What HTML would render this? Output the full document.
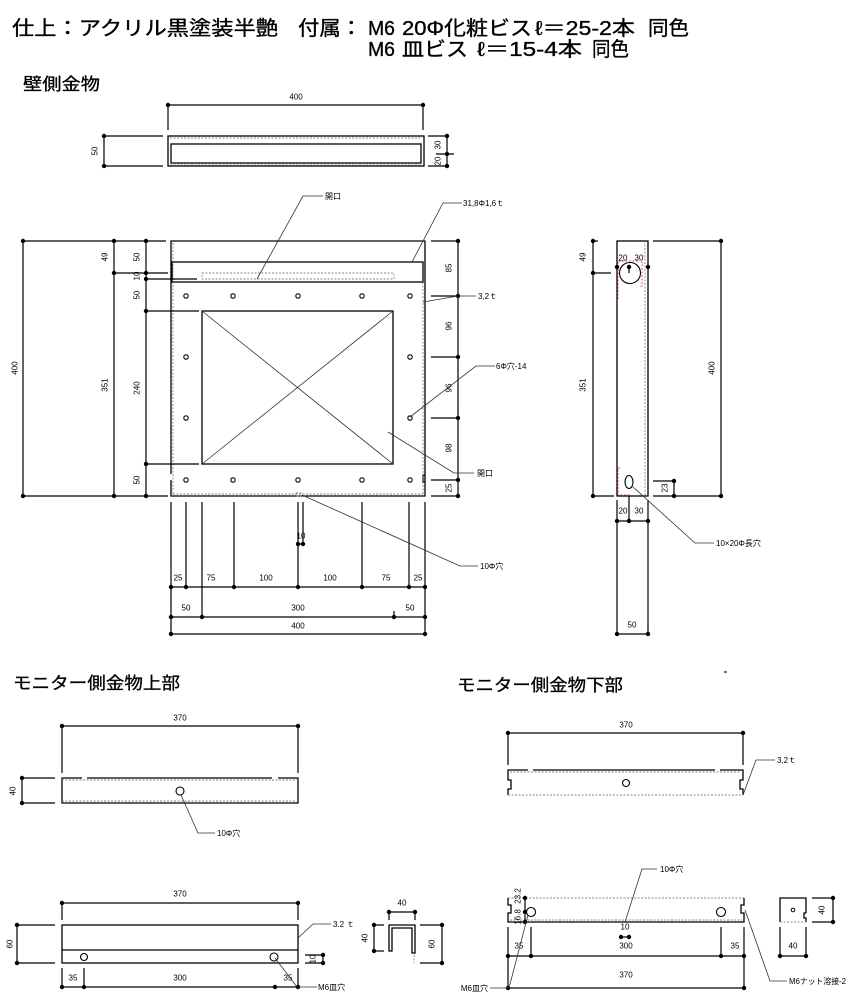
<!DOCTYPE html>
<html><head><meta charset="utf-8"><style>
html,body{margin:0;padding:0;background:#fff}
svg{display:block}
.l{stroke:#000;stroke-width:1.3;fill:none}
.m{stroke:#000;stroke-width:1.1;fill:none}
.r{stroke:#333;stroke-width:0.8;fill:none}
.d{stroke:#888;stroke-width:0.9;stroke-dasharray:2 1.5;fill:none}
.rd{stroke:#e05050;stroke-width:1;stroke-dasharray:2 1.5;fill:none}
.h{stroke:#000;stroke-width:1.2;fill:none}
text{font-family:"Liberation Sans","Noto Sans CJK JP",sans-serif;fill:#000}
.t{font-size:8px}
.tc{font-size:8px;text-anchor:middle;dominant-baseline:central}
.big{font-size:20px;stroke:#000;stroke-width:0.35}
.sub{font-size:17px;stroke:#000;stroke-width:0.3}
</style></head><body>
<svg width="855" height="1000" viewBox="0 0 855 1000" xmlns="http://www.w3.org/2000/svg">
<!-- header -->
<text class="big" x="12" y="35" textLength="266" lengthAdjust="spacingAndGlyphs">仕上：アクリル黒塗装半艶</text>
<text class="big" x="298" y="35" textLength="64" lengthAdjust="spacingAndGlyphs">付属：</text>
<text class="big" x="368" y="35" textLength="27" lengthAdjust="spacingAndGlyphs">M6</text>
<text class="big" x="402" y="35" textLength="130" lengthAdjust="spacingAndGlyphs">20Φ化粧ビス</text>
<text class="big" x="535" y="35" textLength="100" lengthAdjust="spacingAndGlyphs">ℓ＝25-2本</text>
<text class="big" x="648" y="35" textLength="41" lengthAdjust="spacingAndGlyphs">同色</text>
<text class="big" x="368" y="56" textLength="27" lengthAdjust="spacingAndGlyphs">M6</text>
<text class="big" x="402" y="56" textLength="66" lengthAdjust="spacingAndGlyphs">皿ビス</text>
<text class="big" x="477" y="56" textLength="105" lengthAdjust="spacingAndGlyphs">ℓ＝15-4本</text>
<text class="big" x="592" y="56" textLength="37" lengthAdjust="spacingAndGlyphs">同色</text>

<text class="sub" x="23" y="90" textLength="77" lengthAdjust="spacingAndGlyphs">壁側金物</text>
<text class="sub" x="13" y="689" textLength="167" lengthAdjust="spacingAndGlyphs">モニター側金物上部</text>
<text class="sub" x="457" y="691" textLength="166" lengthAdjust="spacingAndGlyphs">モニター側金物下部</text>
<line class="m" x1="724" y1="672" x2="727" y2="672"/>

<!-- TOP VIEW -->
<g>
<line class="h" x1="168" y1="105" x2="423" y2="105"/>
<line class="h" x1="168" y1="105" x2="168" y2="130"/>
<line class="h" x1="423" y1="105" x2="423" y2="130"/>
<text class="tc" x="296" y="97">400</text>
<rect class="l" x="168" y="136" width="256" height="30"/>
<line class="d" x1="170" y1="138" x2="422" y2="138"/>
<line class="d" x1="170" y1="165" x2="422" y2="165"/>
<rect class="l" x="171" y="144" width="250" height="19"/>
<line class="h" x1="104" y1="136" x2="104" y2="166"/>
<line class="h" x1="104" y1="136" x2="163" y2="136"/>
<line class="h" x1="104" y1="166" x2="163" y2="166"/>
<text class="tc" transform="rotate(-90 95 151)" x="95" y="151">50</text>
<line class="h" x1="447" y1="136" x2="447" y2="166"/>
<line class="h" x1="428" y1="136" x2="447" y2="136"/>
<line class="h" x1="428" y1="166" x2="447" y2="166"/>
<line class="h" x1="436" y1="154" x2="454" y2="154"/>
<text class="tc" transform="rotate(-90 438 145)" x="438" y="145">30</text>
<text class="tc" transform="rotate(-90 438 161)" x="438" y="161">20</text>
<g fill="#000"><circle cx="168" cy="105" r="2.2"/><circle cx="423" cy="105" r="2.2"/><circle cx="104" cy="136" r="2.2"/><circle cx="104" cy="166" r="2.2"/><circle cx="447" cy="136" r="2.2"/><circle cx="447" cy="154" r="2.2"/><circle cx="447" cy="166" r="2.2"/></g>
</g>

<!-- MAIN FRONT VIEW -->
<g>
<path class="l" d="M171,474 V241 H425 V496 H171 V480"/>
<line class="d" x1="173" y1="243" x2="173" y2="494"/>
<line class="d" x1="173" y1="494" x2="423" y2="494"/>
<line class="d" x1="423" y1="282" x2="423" y2="494"/>
<rect class="l" x="172" y="262" width="251" height="20"/>
<rect class="d" x="202" y="273" width="192" height="6"/>
<rect class="l" x="202" y="311" width="191" height="153"/>
<line class="r" x1="202" y1="311" x2="393" y2="464"/>
<line class="r" x1="202" y1="464" x2="393" y2="311"/>
<rect class="m" x="423" y="475" width="2" height="7"/>
<g class="m" stroke-width="1.1">
<circle cx="186" cy="296" r="2.2"/><circle cx="233" cy="296" r="2.2"/><circle cx="298" cy="296" r="2.2"/><circle cx="362" cy="296" r="2.2"/><circle cx="410" cy="296" r="2.2"/>
<circle cx="186" cy="480" r="2.2"/><circle cx="233" cy="480" r="2.2"/><circle cx="298" cy="480" r="2.2"/><circle cx="362" cy="480" r="2.2"/><circle cx="410" cy="480" r="2.2"/>
<circle cx="186" cy="357" r="2.2"/><circle cx="186" cy="418" r="2.2"/><circle cx="410" cy="357" r="2.2"/><circle cx="410" cy="418" r="2.2"/>
</g>
<!-- left dims -->
<line class="h" x1="23" y1="241" x2="23" y2="496"/>
<line class="h" x1="114" y1="241" x2="114" y2="496"/>
<line class="h" x1="146" y1="241" x2="146" y2="496"/>
<line class="h" x1="23" y1="241" x2="166" y2="241"/>
<line class="h" x1="23" y1="496" x2="168" y2="496"/>
<line class="h" x1="114" y1="273" x2="168" y2="273"/>
<line class="h" x1="146" y1="279" x2="197" y2="279"/>
<line class="h" x1="146" y1="311" x2="199" y2="311"/>
<line class="h" x1="146" y1="464" x2="199" y2="464"/>
<text class="tc" transform="rotate(-90 15 368)" x="15" y="368">400</text>
<text class="tc" transform="rotate(-90 105 257)" x="105" y="257">49</text>
<text class="tc" transform="rotate(-90 105 385)" x="105" y="385">351</text>
<text class="tc" transform="rotate(-90 137 257)" x="137" y="257">50</text>
<text class="tc" transform="rotate(-90 137 276)" x="137" y="276">10</text>
<text class="tc" transform="rotate(-90 137 295)" x="137" y="295">50</text>
<text class="tc" transform="rotate(-90 137 388)" x="137" y="388">240</text>
<text class="tc" transform="rotate(-90 137 480)" x="137" y="480">50</text>
<g fill="#000">
<circle cx="23" cy="241" r="2.2"/><circle cx="23" cy="496" r="2.2"/>
<circle cx="114" cy="241" r="2.2"/><circle cx="114" cy="273" r="2.2"/><circle cx="114" cy="496" r="2.2"/>
<circle cx="146" cy="241" r="2.2"/><circle cx="146" cy="273" r="2.2"/><circle cx="146" cy="279" r="2.2"/><circle cx="146" cy="311" r="2.2"/><circle cx="146" cy="464" r="2.2"/><circle cx="146" cy="496" r="2.2"/>
</g>
<!-- right dims -->
<line class="h" x1="458" y1="241" x2="458" y2="496"/>
<line class="h" x1="431" y1="241" x2="458" y2="241"/>
<line class="h" x1="431" y1="296" x2="458" y2="296"/>
<line class="h" x1="431" y1="357" x2="458" y2="357"/>
<line class="h" x1="431" y1="418" x2="458" y2="418"/>
<line class="h" x1="431" y1="480" x2="458" y2="480"/>
<line class="h" x1="431" y1="496" x2="458" y2="496"/>
<text class="tc" transform="rotate(-90 449 268)" x="449" y="268">85</text>
<text class="tc" transform="rotate(-90 449 326)" x="449" y="326">96</text>
<text class="tc" transform="rotate(-90 449 388)" x="449" y="388">96</text>
<text class="tc" transform="rotate(-90 449 448)" x="449" y="448">98</text>
<text class="tc" transform="rotate(-90 449 488)" x="449" y="488">25</text>
<g fill="#000"><circle cx="458" cy="241" r="2.2"/><circle cx="458" cy="296" r="2.2"/><circle cx="458" cy="357" r="2.2"/><circle cx="458" cy="418" r="2.2"/><circle cx="458" cy="480" r="2.2"/><circle cx="458" cy="496" r="2.2"/></g>
<!-- leaders -->
<polyline class="r" points="257,279 303,196 323,196"/>
<text class="t" x="325" y="199">開口</text>
<polyline class="r" points="412,262 443,203 462,203"/>
<text class="t" x="463" y="206">31,8Φ1,6ｔ</text>
<polyline class="r" points="423,302 458,296 476,296"/>
<text class="t" x="478" y="299">3,2ｔ</text>
<polyline class="r" points="410,417 476,366 495,366"/>
<text class="t" x="496" y="369">6Φ穴-14</text>
<polyline class="r" points="388,432 454,473 474,473"/>
<text class="t" x="477" y="476">開口</text>
<!-- bottom dims -->
<line class="h" x1="171" y1="502" x2="171" y2="634"/>
<line class="h" x1="186" y1="502" x2="186" y2="587"/>
<line class="h" x1="202" y1="502" x2="202" y2="617"/>
<line class="h" x1="234" y1="502" x2="234" y2="587"/>
<line class="h" x1="298" y1="502" x2="298" y2="587" stroke-width="1.6"/>
<line class="h" x1="303" y1="502" x2="303" y2="544"/>
<line class="h" x1="362" y1="502" x2="362" y2="587"/>
<line class="h" x1="409" y1="502" x2="409" y2="587"/>
<line class="h" x1="425" y1="502" x2="425" y2="634"/>
<line class="h" x1="298" y1="544" x2="303" y2="544"/>
<text class="tc" x="301" y="536">10</text>
<line class="h" x1="171" y1="587" x2="425" y2="587"/>
<line class="h" x1="171" y1="617" x2="425" y2="617"/>
<line class="h" x1="394" y1="611" x2="394" y2="617"/>
<line class="h" x1="171" y1="634" x2="425" y2="634"/>
<text class="tc" x="178" y="578">25</text>
<text class="tc" x="211" y="578">75</text>
<text class="tc" x="266" y="578">100</text>
<text class="tc" x="330" y="578">100</text>
<text class="tc" x="386" y="578">75</text>
<text class="tc" x="418" y="578">25</text>
<text class="tc" x="186" y="608">50</text>
<text class="tc" x="298" y="608">300</text>
<text class="tc" x="410" y="608">50</text>
<text class="tc" x="298" y="626">400</text>
<g fill="#000">
<circle cx="298" cy="544" r="2.2"/><circle cx="303" cy="544" r="2.2"/>
<circle cx="171" cy="587" r="2.2"/><circle cx="186" cy="587" r="2.2"/><circle cx="234" cy="587" r="2.2"/><circle cx="298" cy="587" r="2.2"/><circle cx="362" cy="587" r="2.2"/><circle cx="409" cy="587" r="2.2"/><circle cx="425" cy="587" r="2.2"/>
<circle cx="171" cy="617" r="2.2"/><circle cx="202" cy="617" r="2.2"/><circle cx="394" cy="617" r="2.2"/><circle cx="425" cy="617" r="2.2"/>
<circle cx="171" cy="634" r="2.2"/><circle cx="425" cy="634" r="2.2"/>
</g>
<rect class="d" x="296" y="493" width="5" height="3"/>
<polyline class="r" points="302,495 460,566 478,566"/>
<text class="t" x="480" y="569">10Φ穴</text>
</g>

<!-- RIGHT SIDE VIEW -->
<g>
<rect class="l" x="617" y="241" width="31" height="255"/>
<line class="d" x1="645" y1="241" x2="645" y2="496"/>
<circle class="m" cx="630" cy="273" r="10.5"/>
<polyline class="rd" points="618,299 618,261 640,261"/>
<polyline class="rd" points="641,262 642,262 642,286 639,286"/>
<polyline class="rd" points="620,468 618,468 618,495 630,495"/>
<ellipse class="m" cx="629" cy="482" rx="4" ry="6.5"/>
<line class="h" x1="593" y1="241" x2="593" y2="496"/>
<line class="h" x1="593" y1="241" x2="598" y2="241"/>
<line class="h" x1="593" y1="273" x2="611" y2="273"/>
<line class="h" x1="593" y1="496" x2="614" y2="496"/>
<text class="tc" transform="rotate(-90 583 257)" x="583" y="257">49</text>
<text class="tc" transform="rotate(-90 583 385)" x="583" y="385">351</text>
<line class="h" x1="629" y1="267" x2="629" y2="273"/>
<text class="tc" x="623" y="258">20</text>
<text class="tc" x="639" y="258">30</text>
<line class="h" x1="721" y1="241" x2="721" y2="496"/>
<line class="h" x1="653" y1="241" x2="721" y2="241"/>
<line class="h" x1="653" y1="496" x2="721" y2="496"/>
<text class="tc" transform="rotate(-90 712 368)" x="712" y="368">400</text>
<line class="h" x1="674" y1="481" x2="674" y2="496"/>
<line class="h" x1="653" y1="481" x2="674" y2="481"/>
<text class="tc" transform="rotate(-90 665 488)" x="665" y="488">23</text>
<line class="h" x1="617" y1="500" x2="617" y2="634"/>
<line class="h" x1="648" y1="500" x2="648" y2="634"/>
<line class="h" x1="629" y1="496" x2="629" y2="521"/>
<line class="h" x1="617" y1="521" x2="648" y2="521"/>
<line class="h" x1="617" y1="634" x2="648" y2="634"/>
<text class="tc" x="623" y="511">20</text>
<text class="tc" x="639" y="511">30</text>
<text class="tc" x="632" y="625">50</text>
<g fill="#000">
<circle cx="593" cy="241" r="2.2"/><circle cx="593" cy="273" r="2.2"/><circle cx="593" cy="496" r="2.2"/>
<circle cx="617" cy="267" r="2.2"/><circle cx="629" cy="267" r="2.2"/><circle cx="648" cy="267" r="2.2"/>
<circle cx="721" cy="241" r="2.2"/><circle cx="721" cy="496" r="2.2"/>
<circle cx="674" cy="481" r="2.2"/><circle cx="674" cy="496" r="2.2"/>
<circle cx="617" cy="521" r="2.2"/><circle cx="629" cy="521" r="2.2"/><circle cx="648" cy="521" r="2.2"/>
<circle cx="617" cy="634" r="2.2"/><circle cx="648" cy="634" r="2.2"/>
</g>
<polyline class="r" points="632,486 695,543 714,543"/>
<text class="t" x="716" y="546">10×20Φ長穴</text>
</g>

<!-- MONITOR UPPER -->
<g>
<line class="h" x1="62" y1="726" x2="298" y2="726"/>
<line class="h" x1="62" y1="726" x2="62" y2="773"/>
<line class="h" x1="298" y1="726" x2="298" y2="773"/>
<text class="tc" x="180" y="718">370</text>
<path class="l" d="M82,778 H62 V803 H298 V778 H278 M272,778 H87"/>
<line class="d" x1="62" y1="780" x2="298" y2="780"/>
<line class="d" x1="62" y1="801" x2="298" y2="801"/>
<circle class="m" cx="180" cy="791" r="4"/>
<line class="h" x1="22" y1="778" x2="22" y2="803"/>
<line class="h" x1="22" y1="778" x2="55" y2="778"/>
<line class="h" x1="22" y1="803" x2="55" y2="803"/>
<text class="tc" transform="rotate(-90 13 791)" x="13" y="791">40</text>
<g fill="#000"><circle cx="62" cy="726" r="2.2"/><circle cx="298" cy="726" r="2.2"/><circle cx="22" cy="778" r="2.2"/><circle cx="22" cy="803" r="2.2"/></g>
<polyline class="r" points="181,795 198,833 215,833"/>
<text class="t" x="217" y="836">10Φ穴</text>
</g>

<!-- MONITOR LOWER -->
<g>
<line class="h" x1="508" y1="733" x2="743" y2="733"/>
<line class="h" x1="508" y1="733" x2="508" y2="765"/>
<line class="h" x1="743" y1="733" x2="743" y2="765"/>
<text class="tc" x="626" y="725">370</text>
<path class="l" d="M508,795 V789 H511 V780 H508 V770 H528 M533,770 H715 M720,770 H743 V780 H740 V789 H743 V795"/>
<line class="d" x1="510" y1="772" x2="741" y2="772"/>
<line class="d" x1="508" y1="795" x2="743" y2="795"/>
<circle class="m" cx="626" cy="783" r="3.5"/>
<g fill="#000"><circle cx="508" cy="733" r="2.2"/><circle cx="743" cy="733" r="2.2"/></g>
<polyline class="r" points="743,795 756,760 775,760"/>
<text class="t" x="777" y="763">3,2ｔ</text>
</g>

<!-- BOTTOM LEFT -->
<g>
<line class="h" x1="62" y1="903" x2="298" y2="903"/>
<line class="h" x1="62" y1="903" x2="62" y2="920"/>
<line class="h" x1="298" y1="903" x2="298" y2="920"/>
<text class="tc" x="180" y="894">370</text>
<rect class="l" x="62" y="925" width="236" height="38"/>
<line class="l" x1="62" y1="950" x2="298" y2="950"/>
<circle class="m" cx="84" cy="957" r="3.5"/>
<circle class="m" cx="274" cy="957" r="4"/>
<line class="h" x1="17" y1="925" x2="17" y2="963"/>
<line class="h" x1="17" y1="925" x2="55" y2="925"/>
<line class="h" x1="17" y1="963" x2="55" y2="963"/>
<text class="tc" transform="rotate(-90 10 944)" x="10" y="944">60</text>
<line class="h" x1="62" y1="968" x2="62" y2="987"/>
<line class="h" x1="84" y1="968" x2="84" y2="987"/>
<line class="h" x1="298" y1="968" x2="298" y2="987"/>
<line class="h" x1="62" y1="987" x2="298" y2="987"/>
<text class="tc" x="73" y="978">35</text>
<text class="tc" x="180" y="978">300</text>
<text class="tc" x="288" y="978">35</text>
<line class="h" x1="305" y1="955" x2="323" y2="955"/>
<line class="h" x1="305" y1="963" x2="323" y2="963"/>
<line class="h" x1="323" y1="955" x2="323" y2="963"/>
<text class="tc" transform="rotate(-90 313 959)" x="313" y="959">10</text>
<g fill="#000"><circle cx="62" cy="903" r="2.2"/><circle cx="298" cy="903" r="2.2"/><circle cx="17" cy="925" r="2.2"/><circle cx="17" cy="963" r="2.2"/><circle cx="62" cy="987" r="2.2"/><circle cx="84" cy="987" r="2.2"/><circle cx="275" cy="987" r="2.2"/><circle cx="298" cy="987" r="2.2"/><circle cx="323" cy="955" r="2.2"/><circle cx="323" cy="963" r="2.2"/></g>
<polyline class="r" points="298,938 313,924 331,924"/>
<text class="t" x="333" y="927">3.2 ｔ</text>
<polyline class="r" points="275,958 297,987 317,987"/>
<text class="t" x="318" y="990">M6皿穴</text>
<!-- U section -->
<path class="l" d="M392,951 H389 V925 H415 V953 H412 V928 H392 Z"/>
<line class="d" x1="414" y1="955" x2="414" y2="963"/>
<line class="h" x1="389" y1="912" x2="415" y2="912"/>
<line class="h" x1="389" y1="912" x2="389" y2="920"/>
<line class="h" x1="415" y1="912" x2="415" y2="920"/>
<text class="tc" x="402" y="903">40</text>
<line class="h" x1="374" y1="925" x2="374" y2="951"/>
<line class="h" x1="374" y1="925" x2="384" y2="925"/>
<line class="h" x1="374" y1="951" x2="384" y2="951"/>
<text class="tc" transform="rotate(-90 365 938)" x="365" y="938">40</text>
<line class="h" x1="442" y1="925" x2="442" y2="963"/>
<line class="h" x1="420" y1="925" x2="442" y2="925"/>
<line class="h" x1="420" y1="963" x2="442" y2="963"/>
<text class="tc" transform="rotate(-90 432 944)" x="432" y="944">60</text>
<g fill="#000"><circle cx="389" cy="912" r="2.2"/><circle cx="415" cy="912" r="2.2"/><circle cx="374" cy="925" r="2.2"/><circle cx="374" cy="951" r="2.2"/><circle cx="442" cy="925" r="2.2"/><circle cx="442" cy="963" r="2.2"/></g>
</g>

<!-- BOTTOM RIGHT -->
<g>
<polyline class="r" points="625,922 642,869 657,869"/>
<text class="t" x="660" y="872">10Φ穴</text>
<line class="d" x1="508" y1="898" x2="744" y2="898"/>
<line class="d" x1="510" y1="920" x2="742" y2="920"/>
<path class="l" d="M508,898 V905 H511 V913 H508 V922 H744 V913 H741 V905 H744 V898"/>
<circle class="m" cx="531" cy="912" r="4.5"/>
<circle class="m" cx="721" cy="912" r="4.5"/>
<line class="h" x1="525" y1="898" x2="525" y2="922"/>
<text class="tc" transform="rotate(-90 518 896)" x="518" y="896">23.2</text>
<text class="tc" transform="rotate(-90 518 917)" x="518" y="917">16.8</text>
<line class="h" x1="508" y1="927" x2="508" y2="988"/>
<line class="h" x1="531" y1="927" x2="531" y2="956"/>
<line class="h" x1="721" y1="927" x2="721" y2="956"/>
<line class="h" x1="744" y1="927" x2="744" y2="988"/>
<line class="h" x1="508" y1="956" x2="744" y2="956"/>
<line class="h" x1="508" y1="988" x2="744" y2="988"/>
<line class="h" x1="621" y1="937" x2="629" y2="937"/>
<text class="tc" x="625" y="927">10</text>
<text class="tc" x="519" y="946">35</text>
<text class="tc" x="626" y="946">300</text>
<text class="tc" x="735" y="946">35</text>
<text class="tc" x="626" y="975">370</text>
<g fill="#000"><circle cx="525" cy="898" r="2.2"/><circle cx="525" cy="912" r="2.2"/><circle cx="525" cy="922" r="2.2"/><circle cx="621" cy="937" r="2.2"/><circle cx="629" cy="937" r="2.2"/><circle cx="508" cy="956" r="2.2"/><circle cx="531" cy="956" r="2.2"/><circle cx="721" cy="956" r="2.2"/><circle cx="744" cy="956" r="2.2"/><circle cx="508" cy="988" r="2.2"/><circle cx="744" cy="988" r="2.2"/></g>
<polyline class="r" points="528,915 509,988 490,988"/>
<text class="t" x="488" y="991" text-anchor="end">M6皿穴</text>
<polyline class="r" points="745,910 770,981 787,981"/>
<text class="t" x="789" y="984" textLength="57" lengthAdjust="spacingAndGlyphs">M6ナット溶接-2</text>
<!-- small square section -->
<path class="l" d="M806,913 V898 H780 V922"/>
<path class="l" d="M806,913 H804 V918 H806 V922"/>
<line class="d" x1="780" y1="922" x2="806" y2="922"/>
<circle cx="793" cy="910" r="1.8" fill="none" stroke="#000" stroke-width="1"/>
<line class="h" x1="833" y1="898" x2="833" y2="922"/>
<line class="h" x1="812" y1="898" x2="833" y2="898"/>
<line class="h" x1="812" y1="922" x2="833" y2="922"/>
<text class="tc" transform="rotate(-90 822 910)" x="822" y="910">40</text>
<line class="h" x1="780" y1="927" x2="780" y2="956"/>
<line class="h" x1="806" y1="927" x2="806" y2="956"/>
<line class="h" x1="780" y1="956" x2="806" y2="956"/>
<text class="tc" x="793" y="946">40</text>
<g fill="#000"><circle cx="833" cy="898" r="2.2"/><circle cx="833" cy="922" r="2.2"/><circle cx="780" cy="956" r="2.2"/><circle cx="806" cy="956" r="2.2"/></g>
</g>
</svg>
</body></html>
